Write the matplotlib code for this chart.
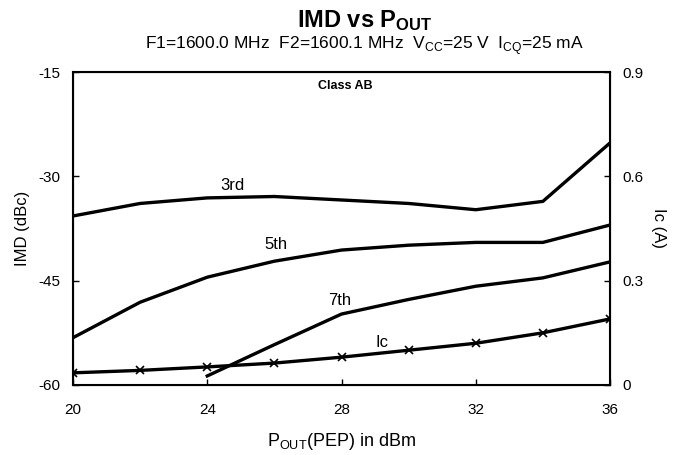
import matplotlib.pyplot as plt

plt.rcParams['font.family'] = ['Liberation Sans', 'DejaVu Sans']
plt.rcParams['mathtext.fontset'] = 'custom'
plt.rcParams['mathtext.rm'] = 'Liberation Sans'
plt.rcParams['mathtext.bf'] = 'Liberation Sans:bold'
plt.rcParams['axes.unicode_minus'] = False

# data
pout = [20, 22, 24, 26, 28, 30, 32, 34, 36]
imd3 = [-35.7, -33.9, -33.1, -32.9, -33.4, -33.9, -34.8, -33.6, -25.2]
imd5 = [-53.2, -48.1, -44.5, -42.2, -40.6, -39.9, -39.5, -39.5, -37.0]
pout7 = [24, 26, 28, 30, 32, 34, 36]
imd7 = [-58.7, -54.2, -49.8, -47.7, -45.8, -44.6, -42.3]
ic = [0.035, 0.042, 0.052, 0.063, 0.08, 0.10, 0.12, 0.15, 0.19]

fig = plt.figure(figsize=(6.75, 4.55), dpi=100)
ax = fig.add_axes([73/675, 1 - 385/455, 537/675, 313/455])

ax.plot(pout, imd3, color='black', lw=2.4)
ax.plot(pout, imd5, color='black', lw=2.4)
ax.plot(pout7, imd7, color='black', lw=2.4)

ax.set_xlim(20, 36)
ax.set_ylim(-60, -15)
ax.set_xticks([20, 24, 28, 32, 36])
ax.set_yticks([-60, -45, -30, -15])
ax.tick_params(direction='in', length=4, width=1, labelsize=11, pad=9)
ax.tick_params(axis='x', pad=13)
for s in ax.spines.values():
    s.set_linewidth(1.5)

ax2 = ax.twinx()
ax2.plot(pout, ic, color='black', lw=2.4, marker='x', ms=6, mew=1.2)
ax2.set_ylim(0, 0.9)
ax2.set_yticks([0, 0.3, 0.6, 0.9])
ax2.set_yticklabels(['0', '0.3', '0.6', '0.9'])
ax2.tick_params(direction='in', length=4, width=1, labelsize=11, pad=9)

ax.set_ylabel('IMD (dBc)', fontsize=12, labelpad=6)
ax2.set_ylabel('Ic (A)', fontsize=12, rotation=-90, labelpad=16)
ax.set_xlabel(r'P$_{\rm OUT}$(PEP) in dBm', fontsize=13, labelpad=10)

fig.text(0.54, 0.955, r'$\bf IMD$ $\bf vs$ $\bf P_{OUT}$', ha='center', va='center', fontsize=17)
fig.text(0.54, 0.90, r'F1=1600.0 MHz  F2=1600.1 MHz  V$_{\rm CC}$=25 V  I$_{\rm CQ}$=25 mA',
         ha='center', va='center', fontsize=12.5)

ax.text(27.3, -17.0, 'Class AB', fontsize=9, fontweight='bold', va='center')
ax.text(24.4, -31.3, '3rd', fontsize=12, va='center')
ax.text(25.7, -39.8, '5th', fontsize=12, va='center')
ax.text(27.6, -47.8, '7th', fontsize=12, va='center')
ax.text(29.0, -53.9, 'Ic', fontsize=12, va='center')

fig.savefig('out.png', dpi=100)
